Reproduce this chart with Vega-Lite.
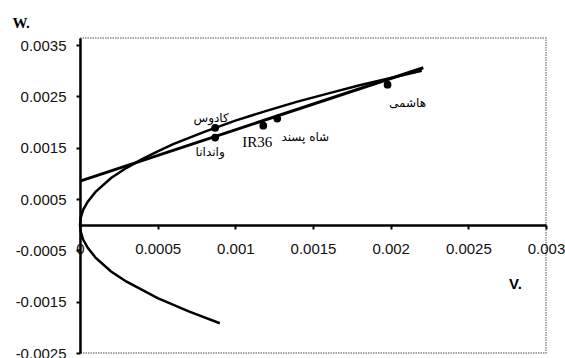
{
  "$schema": "https://vega.github.io/schema/vega-lite/v6.json",
  "autosize": "none",
  "width": 466,
  "height": 315,
  "padding": {"left": 80, "top": 38, "right": 19, "bottom": 5},
  "background": "white",
  "config": {
    "view": {"stroke": "#8a8a8a", "strokeWidth": 1.5, "strokeDash": [1.5, 1]},
    "axis": {"grid": false, "labelFont": "Liberation Sans", "labelFontSize": 14, "labelColor": "#111", "domainColor": "#000", "tickColor": "#000", "domainWidth": 2.5, "tickWidth": 2, "tickSize": 4}
  },
  "datasets": {
    "parabola": [
      {"i": 0, "V": 0.0009, "W": -0.00192},
      {"i": 1, "V": 0.0007, "W": -0.00169},
      {"i": 2, "V": 0.0005, "W": -0.00143},
      {"i": 3, "V": 0.0003, "W": -0.00111},
      {"i": 4, "V": 0.0002, "W": -0.00091},
      {"i": 5, "V": 0.0001, "W": -0.00064},
      {"i": 6, "V": 0.00005, "W": -0.00045},
      {"i": 7, "V": 0.00002, "W": -0.00029},
      {"i": 8, "V": 0.000005, "W": -0.00014},
      {"i": 9, "V": 0, "W": 0},
      {"i": 10, "V": 0.000005, "W": 0.00014},
      {"i": 11, "V": 0.00002, "W": 0.00029},
      {"i": 12, "V": 0.00005, "W": 0.00045},
      {"i": 13, "V": 0.0001, "W": 0.00064},
      {"i": 14, "V": 0.0002, "W": 0.00091},
      {"i": 15, "V": 0.0003, "W": 0.00111},
      {"i": 16, "V": 0.0004, "W": 0.00128},
      {"i": 17, "V": 0.0005, "W": 0.00143},
      {"i": 18, "V": 0.0006, "W": 0.00157},
      {"i": 19, "V": 0.0008, "W": 0.00181},
      {"i": 20, "V": 0.001, "W": 0.00203},
      {"i": 21, "V": 0.0012, "W": 0.00222},
      {"i": 22, "V": 0.0014, "W": 0.0024},
      {"i": 23, "V": 0.0016, "W": 0.00256},
      {"i": 24, "V": 0.0018, "W": 0.00272},
      {"i": 25, "V": 0.002, "W": 0.00286},
      {"i": 26, "V": 0.0022, "W": 0.003}
    ],
    "reg": [
      {"V": 0, "W": 0.00085},
      {"V": 0.00221, "W": 0.00306}
    ],
    "pts": [
      {"name": "کادوس", "V": 0.00087, "W": 0.00189},
      {"name": "واندانا", "V": 0.00087, "W": 0.0017},
      {"name": "IR36", "V": 0.00118, "W": 0.00193},
      {"name": "شاه پسند", "V": 0.00127, "W": 0.00207},
      {"name": "هاشمی", "V": 0.00198, "W": 0.00273}
    ]
  },
  "encoding": {
    "x": {"field": "V", "type": "quantitative",
      "scale": {"domain": [0, 0.003], "nice": false, "zero": false},
      "axis": {"orient": "bottom", "offset": -128, "values": [0, 0.0005, 0.001, 0.0015, 0.002, 0.0025, 0.003],
        "labelExpr": "toString(datum.value)", "labelPadding": 12, "labelFontSize": 15, "labelFlush": false,
        "title": "V.", "titleFont": "Liberation Sans", "titleFontSize": 15, "titleFontWeight": "bold",
        "titleAnchor": null, "titleX": 435, "titleY": 58, "titleAlign": "center", "titleBaseline": "middle", "titleAngle": 0}},
    "y": {"field": "W", "type": "quantitative",
      "scale": {"domain": [-0.0025, 0.00364], "nice": false, "zero": false},
      "axis": {"values": [-0.0025, -0.0015, -0.0005, 0.0005, 0.0015, 0.0025, 0.0035],
        "labelExpr": "toString(datum.value)", "labelPadding": 10, "labelFontSize": 15, "labelFlush": false,
        "title": "W.", "titleFont": "Liberation Serif", "titleFontSize": 15, "titleFontWeight": "bold",
        "titleAnchor": null, "titleX": -68, "titleY": -16, "titleAlign": "left", "titleBaseline": "middle", "titleAngle": 0}}
  },
  "layer": [
    {"data": {"name": "parabola"}, "mark": {"type": "line", "color": "black", "strokeWidth": 2.5},
      "encoding": {"order": {"field": "i", "type": "quantitative"}}},
    {"data": {"name": "reg"}, "mark": {"type": "line", "color": "black", "strokeWidth": 3},
      "encoding": {}},
    {"data": {"name": "pts"}, "mark": {"type": "point", "filled": true, "color": "black", "size": 60, "opacity": 1},
      "encoding": {}},
    {"data": {"name": "pts"}, "transform": [{"filter": "datum.name === 'کادوس'"}],
      "mark": {"type": "text", "font": "DejaVu Sans", "fontSize": 12, "color": "black", "dx": -4, "dy": -10},
      "encoding": {"text": {"field": "name"}}},
    {"data": {"name": "pts"}, "transform": [{"filter": "datum.name === 'واندانا'"}],
      "mark": {"type": "text", "font": "DejaVu Sans", "fontSize": 12, "color": "black", "dx": -5, "dy": 14},
      "encoding": {"text": {"field": "name"}}},
    {"data": {"name": "pts"}, "transform": [{"filter": "datum.name === 'IR36'"}],
      "mark": {"type": "text", "font": "Liberation Serif", "fontSize": 15, "color": "black", "dx": -6, "dy": 16},
      "encoding": {"text": {"field": "name"}}},
    {"data": {"name": "pts"}, "transform": [{"filter": "datum.name === 'شاه پسند'"}],
      "mark": {"type": "text", "font": "DejaVu Sans", "fontSize": 12, "color": "black", "dx": 28, "dy": 18},
      "encoding": {"text": {"field": "name"}}},
    {"data": {"name": "pts"}, "transform": [{"filter": "datum.name === 'هاشمی'"}],
      "mark": {"type": "text", "font": "DejaVu Sans", "fontSize": 12, "color": "black", "dx": 20, "dy": 18},
      "encoding": {"text": {"field": "name"}}}
  ]
}
